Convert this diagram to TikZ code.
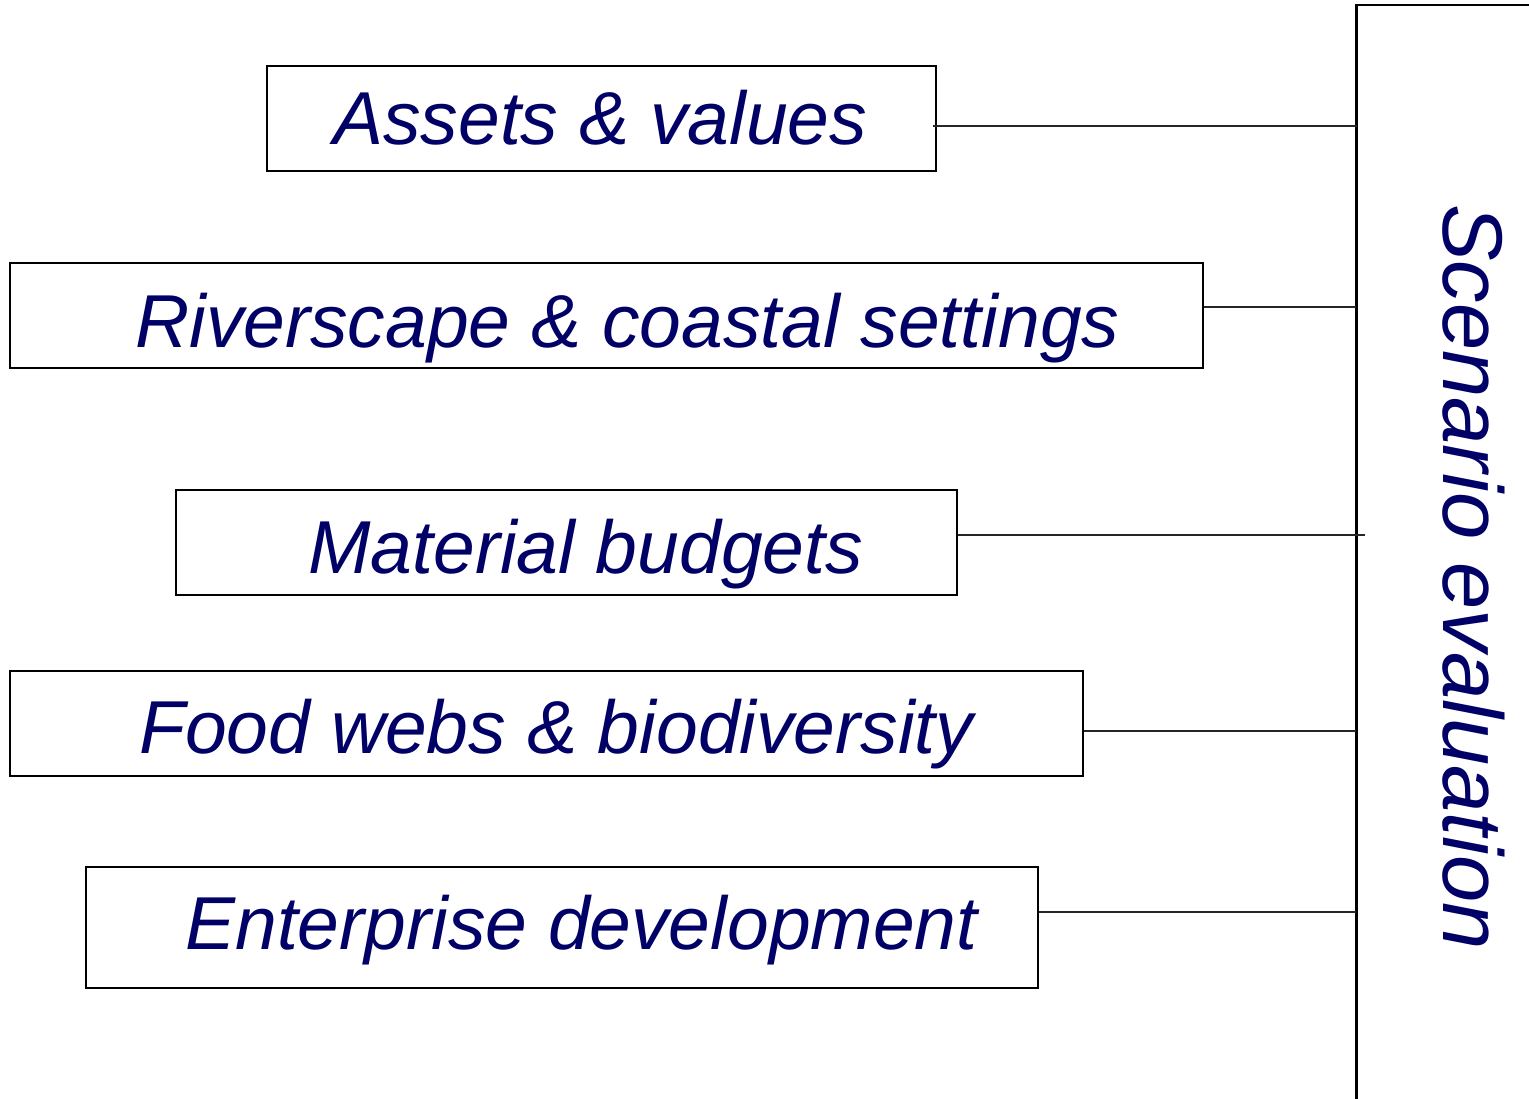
\documentclass[tikz,border=0pt]{standalone}
\usepackage{fontspec}
\setmainfont{Liberation Sans}
\definecolor{navytext}{RGB}{0,0,102}
\begin{document}
\begin{tikzpicture}[x=0.02cm,y=-0.02cm]
	\tikzstyle{box}=[draw,line width=1.1pt,inner sep=0pt]
	\tikzstyle{lbl}=[font=\fontsize{42.7}{48}\selectfont\itshape,text=navytext,anchor=base west,inner sep=0pt]
	\tikzstyle{link}=[draw,line width=0.8pt,color=black!85]
	\useasboundingbox (0,0) rectangle (1529,1099);

	% boxes on the left
	\node (assets) at (601.5,118.5) [box,minimum width=669*0.02cm,minimum height=105*0.02cm] {};
	\node (river) at (606.5,315.5) [box,minimum width=1193*0.02cm,minimum height=105*0.02cm] {};
	\node (material) at (566.5,542.5) [box,minimum width=781*0.02cm,minimum height=105*0.02cm] {};
	\node (food) at (546.5,723.5) [box,minimum width=1073*0.02cm,minimum height=105*0.02cm] {};
	\node (enter) at (562,927.5) [box,minimum width=952*0.02cm,minimum height=121*0.02cm] {};

	\node (assetsT) at (333,144) [lbl] {Assets \& values};
	\node (riverT) at (135,347) [lbl] {Riverscape \& coastal settings};
	\node (materialT) at (308,573) [lbl] {Material budgets};
	\node (foodT) at (139,753) [lbl] {Food webs \& biodiversity};
	\node (enterT) at (185,949) [lbl] {Enterprise development};

	% scenario frame
	\coordinate (frame) at (1356,5);
	\draw[line width=1.7pt] (1356,1099) -- (frame) -- (1529,5);
	\node (scen) at (1443,204) [lbl,font=\fontsize{48.3}{54}\selectfont\itshape,rotate=-90] {Scenario evaluation};

	\path [link] ([xshift=-4*0.02cm,yshift=-7.5*0.02cm]assets.east) -- ++(424,0);
	\path [link] ([yshift=8.5*0.02cm]river.east) -- ([yshift=8.5*0.02cm]river.east -| frame);
	\path [link] ([yshift=7.5*0.02cm]material.east) -- ++(407,0);
	\path [link] ([yshift=-7.5*0.02cm]food.east) -- ([yshift=-7.5*0.02cm]food.east -| frame);
	\path [link] ([yshift=15.5*0.02cm]enter.east) -- ([yshift=15.5*0.02cm]enter.east -| frame);
\end{tikzpicture}
\end{document}
